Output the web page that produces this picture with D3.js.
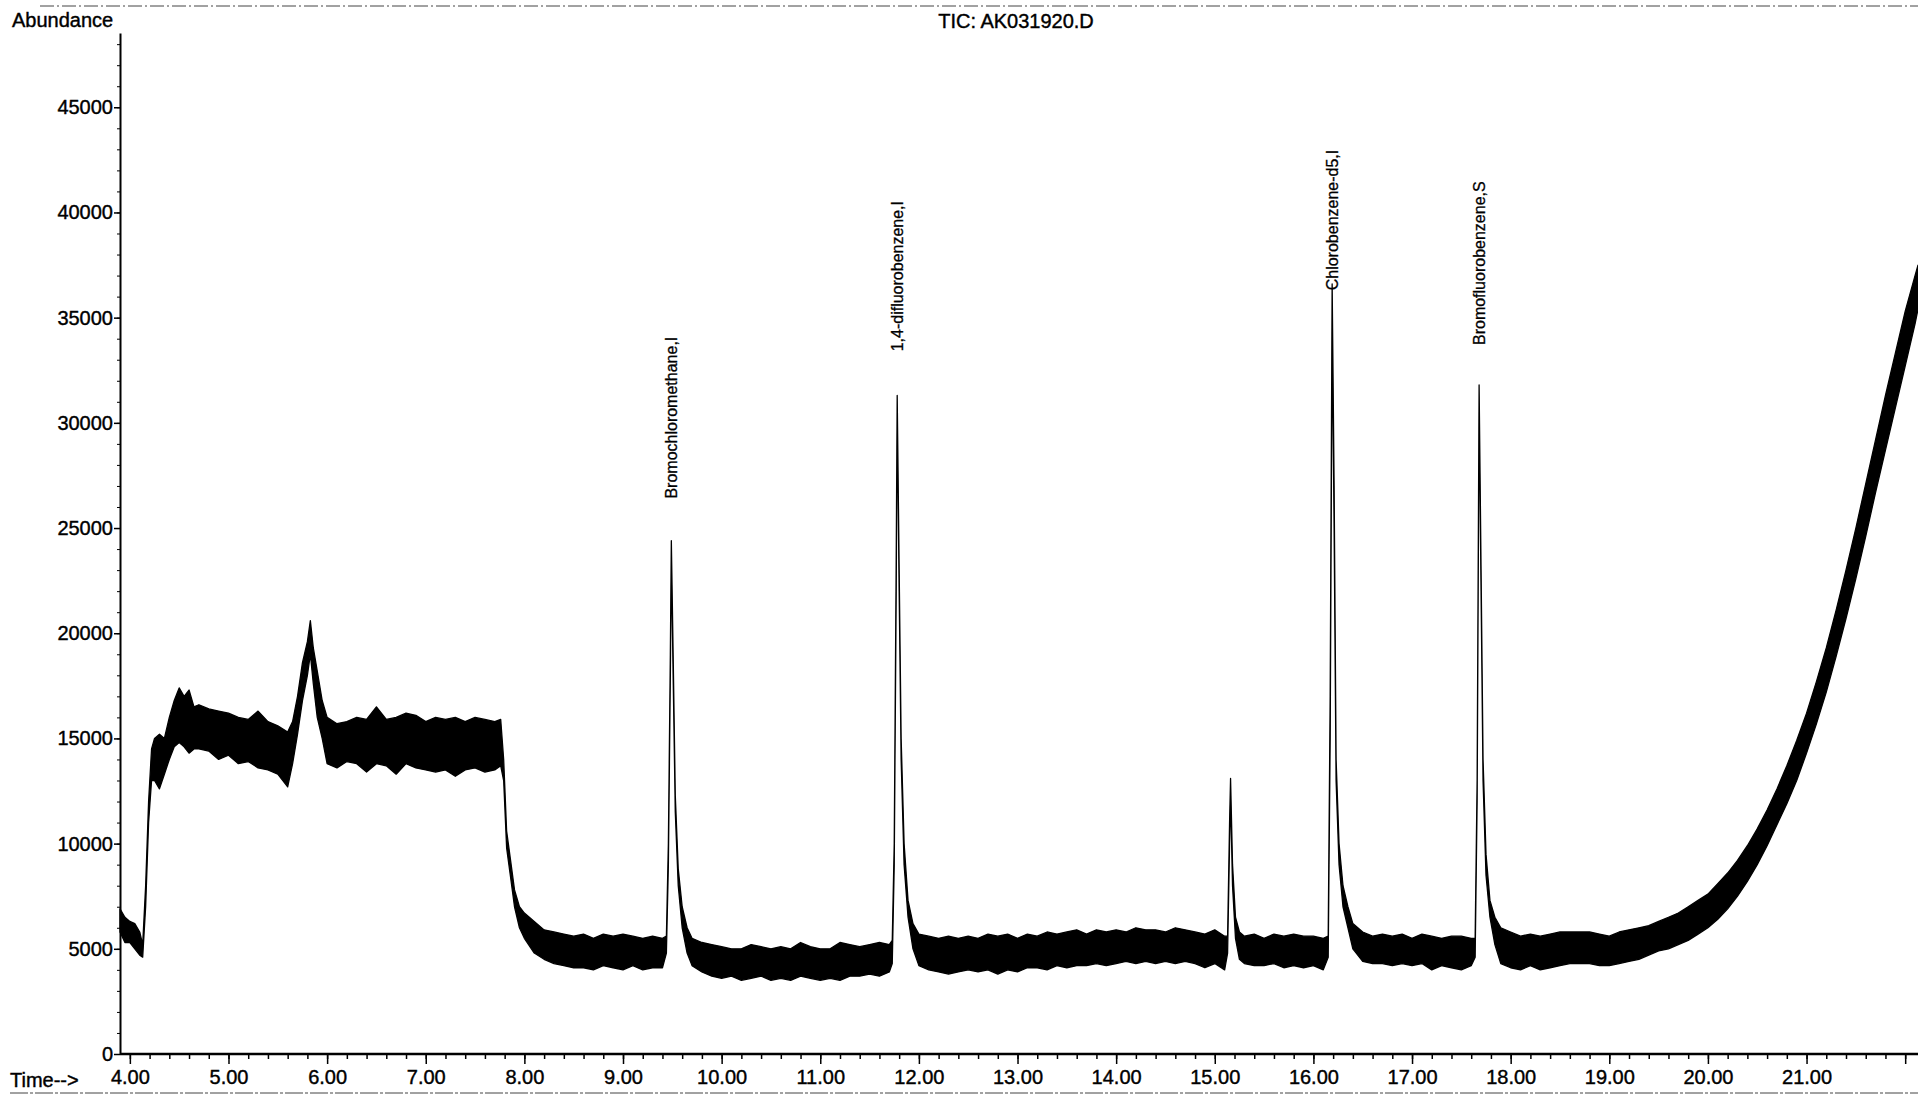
<!DOCTYPE html>
<html>
<head>
<meta charset="utf-8">
<script src="https://cdn.jsdelivr.net/npm/d3@7"></script>
<style>
  html, body { margin: 0; padding: 0; background: #fff; }
  #chart { width: 1918px; height: 1095px; }
</style>
</head>
<body>
<div id="chart"></div>
<script>
// retention time (min) of each trace sample
var timeMin = [
  3.90, 3.95, 4.00, 4.05, 4.10, 4.13, 4.16, 4.19, 4.22, 4.25, 4.30, 4.35, 4.40, 4.45, 4.50, 4.55, 4.60, 4.65, 4.70, 4.80,
  4.90, 5.00, 5.10, 5.20, 5.30, 5.40, 5.50, 5.60, 5.65, 5.70, 5.75, 5.80, 5.83, 5.86, 5.90, 5.95, 6.00, 6.10, 6.20, 6.30,
  6.40, 6.50, 6.60, 6.70, 6.80, 6.90, 7.00, 7.10, 7.20, 7.30, 7.40, 7.50, 7.60, 7.70, 7.76, 7.79, 7.82, 7.86, 7.90, 7.95,
  8.00, 8.10, 8.20, 8.30, 8.40, 8.50, 8.60, 8.70, 8.80, 8.90, 9.00, 9.10, 9.20, 9.30, 9.40, 9.44, 9.46, 9.48, 9.49, 9.51,
  9.53, 9.56, 9.60, 9.65, 9.70, 9.80, 9.90, 10.00, 10.10, 10.20, 10.30, 10.40, 10.50, 10.60, 10.70, 10.80, 10.90, 11.00, 11.10, 11.20,
  11.30, 11.40, 11.50, 11.60, 11.70, 11.73, 11.75, 11.77, 11.78, 11.80, 11.82, 11.85, 11.89, 11.94, 12.00, 12.10, 12.20, 12.30, 12.40, 12.50,
  12.60, 12.70, 12.80, 12.90, 13.00, 13.10, 13.20, 13.30, 13.40, 13.50, 13.60, 13.70, 13.80, 13.90, 14.00, 14.10, 14.20, 14.30, 14.40, 14.50,
  14.60, 14.70, 14.80, 14.90, 15.00, 15.10, 15.13, 15.15, 15.16, 15.18, 15.21, 15.25, 15.30, 15.40, 15.50, 15.60, 15.70, 15.80, 15.90, 16.00,
  16.10, 16.15, 16.17, 16.19, 16.21, 16.23, 16.26, 16.30, 16.35, 16.40, 16.50, 16.60, 16.70, 16.80, 16.90, 17.00, 17.10, 17.20, 17.30, 17.40,
  17.50, 17.60, 17.64, 17.66, 17.68, 17.70, 17.72, 17.75, 17.79, 17.84, 17.90, 18.00, 18.10, 18.20, 18.30, 18.40, 18.50, 18.60, 18.70, 18.80,
  18.90, 19.00, 19.10, 19.20, 19.30, 19.40, 19.50, 19.60, 19.70, 19.80, 19.90, 20.00, 20.10, 20.20, 20.30, 20.40, 20.50, 20.60, 20.70, 20.80,
  20.90, 21.00, 21.10, 21.20, 21.30, 21.40, 21.50, 21.60, 21.70, 21.80, 21.90, 22.00, 22.10, 22.13
];

// lower edge of the noisy TIC trace (abundance)
var lowAbund = [
  5800, 5300, 5300, 5000, 4700, 4600, 7000, 11000, 13000, 13000, 12600, 13300, 14000, 14600, 14800, 14600, 14300, 14500, 14500, 14400,
  14000, 14200, 13800, 13900, 13600, 13500, 13300, 12700, 13800, 15200, 16800, 18000, 19000, 17600, 16000, 15000, 13800, 13600, 13900, 13800,
  13400, 13800, 13700, 13300, 13800, 13600, 13500, 13400, 13500, 13200, 13500, 13600, 13400, 13500, 13700, 13000, 9800, 8400, 7000, 6000,
  5500, 4800, 4500, 4300, 4200, 4100, 4100, 4000, 4200, 4100, 4000, 4200, 4000, 4100, 4100, 4800, 9000, 18000, 23500, 17500,
  11500, 8000, 6000, 4800, 4200, 3900, 3700, 3600, 3700, 3500, 3600, 3700, 3500, 3600, 3500, 3700, 3600, 3500, 3600, 3500,
  3700, 3700, 3800, 3700, 3900, 4300, 9000, 22000, 30500, 22000, 14000, 9000, 6500, 5000, 4200, 4000, 3900, 3800, 3900, 4000,
  3900, 4000, 3800, 4000, 3900, 4100, 4100, 4000, 4200, 4100, 4200, 4200, 4300, 4200, 4300, 4400, 4300, 4400, 4300, 4400,
  4300, 4400, 4300, 4100, 4300, 4000, 4800, 10000, 12300, 8000, 5500, 4500, 4300, 4200, 4200, 4300, 4100, 4200, 4100, 4200,
  4000, 4600, 15000, 34500, 25000, 13000, 9000, 7000, 6000, 5000, 4400, 4300, 4300, 4200, 4300, 4200, 4300, 4000, 4200, 4100,
  4000, 4200, 4600, 12000, 30800, 22000, 13000, 8500, 6500, 5200, 4300, 4100, 4000, 4200, 4000, 4100, 4200, 4300, 4300, 4300,
  4200, 4200, 4300, 4400, 4500, 4700, 4900, 5000, 5200, 5400, 5700, 6000, 6400, 6900, 7500, 8200, 9000, 9900, 10900, 11900,
  13000, 14300, 15700, 17200, 18900, 20700, 22600, 24600, 26700, 28700, 30700, 32700, 34700, 35400
];

// upper edge of the noisy TIC trace (abundance)
var highAbund = [
  6900, 6500, 6300, 6200, 5800, 5200, 8000, 12000, 14500, 15000, 15200, 15000, 16000, 16800, 17400, 17000, 17300, 16500, 16600, 16400,
  16300, 16200, 16000, 15900, 16300, 15800, 15600, 15300, 15800, 17000, 18600, 19600, 20600, 19300, 18200, 16800, 16000, 15700, 15800, 16000,
  15900, 16500, 15900, 16000, 16200, 16100, 15800, 16000, 15900, 16000, 15800, 16000, 15900, 15800, 15900, 14000, 10600, 9200, 7800, 7000,
  6700, 6300, 5900, 5800, 5700, 5600, 5700, 5500, 5700, 5600, 5700, 5600, 5500, 5600, 5500, 5600, 10000, 19000, 24400, 18500,
  12300, 8800, 7000, 6000, 5500, 5300, 5200, 5100, 5000, 5000, 5200, 5100, 5000, 5100, 5000, 5300, 5100, 5000, 5000, 5300,
  5200, 5100, 5200, 5300, 5200, 5400, 10000, 23500, 31300, 23000, 15000, 10000, 7300, 6200, 5700, 5600, 5500, 5600, 5500, 5600,
  5500, 5700, 5600, 5700, 5500, 5700, 5600, 5800, 5700, 5800, 5900, 5700, 5900, 5800, 5900, 5800, 6000, 5900, 5900, 5800,
  6000, 5900, 5800, 5700, 5900, 5600, 5600, 11000, 13100, 9000, 6500, 5800, 5600, 5700, 5500, 5700, 5600, 5700, 5600, 5600,
  5500, 5600, 17000, 36600, 27000, 14000, 10000, 8000, 7000, 6200, 5800, 5600, 5700, 5600, 5700, 5500, 5700, 5600, 5500, 5600,
  5600, 5500, 5500, 13000, 31800, 23000, 14000, 9500, 7300, 6500, 6000, 5800, 5600, 5700, 5600, 5700, 5800, 5800, 5800, 5800,
  5700, 5600, 5800, 5900, 6000, 6100, 6300, 6500, 6700, 7000, 7300, 7600, 8100, 8600, 9200, 9900, 10700, 11600, 12600, 13700,
  14900, 16200, 17700, 19300, 21100, 23000, 25000, 27100, 29200, 31300, 33300, 35300, 37000, 37500
];

// compound labels printed above the peaks
var peakNames = ["Bromochloromethane,I", "1,4-difluorobenzene,I", "Chlorobenzene-d5,I", "Bromofluorobenzene,S"];
var peakTimes = [9.49, 11.78, 16.19, 17.68];
var labelBase = [26400, 33400, 36300, 33700];

// axis ticks
var yTickValues = [0, 5000, 10000, 15000, 20000, 25000, 30000, 35000, 40000, 45000];
var xTickLabels = ["4.00", "5.00", "6.00", "7.00", "8.00", "9.00", "10.00", "11.00", "12.00", "13.00",
  "14.00", "15.00", "16.00", "17.00", "18.00", "19.00", "20.00", "21.00"];

var fontFam = "'Liberation Sans', Arial, Helvetica, sans-serif";
var W = 1918, H = 1095;
var margin = { top: 33, left: 120, bottom: 1054, right: 1918 };

var svg = d3.select("#chart")
    .append("svg")
    .attr("width", W)
    .attr("height", H)
    .style("background", "#fff");

// scales
var x = d3.scaleLinear().domain([3.9, 22.13]).range([margin.left, margin.right]);
var y = d3.scaleLinear().domain([0, 48530]).range([margin.bottom, margin.top]);

var trace = timeMin.map(function (t, i) {
    return { t: t, lo: lowAbund[i], hi: highAbund[i] };
});

// the noise band of the chromatogram
var band = d3.area()
    .x(function (d) { return x(d.t); })
    .y0(function (d) { return y(d.lo); })
    .y1(function (d) { return y(d.hi); });

svg.append("path")
    .datum(trace)
    .attr("d", band)
    .style("fill", "#000")
    .style("stroke", "#000")
    .style("stroke-width", "1.3px")
    .style("stroke-linejoin", "round");

// scanned page edges
svg.append("line")
    .attr("x1", 40).attr("x2", W).attr("y1", 6).attr("y2", 6)
    .style("stroke", "#444").style("stroke-width", "1px").style("stroke-dasharray", "14,3,2,3");
svg.append("line")
    .attr("x1", 10).attr("x2", W).attr("y1", 1093).attr("y2", 1093)
    .style("stroke", "#444").style("stroke-width", "1px").style("stroke-dasharray", "18,2,3,2");

// Y axis with minor ticks
var yMinor = d3.range(0, 48001, 1000);
svg.append("g")
    .attr("transform", "translate(" + margin.left + ",0)")
    .call(d3.axisLeft(y).tickValues(yMinor).tickSize(3).tickFormat(""))
    .call(function (g) { g.select(".domain").remove(); })
    .selectAll("line").style("stroke", "#000");

svg.append("g")
    .attr("class", "y-axis")
    .attr("transform", "translate(" + margin.left + ",0)")
    .style("font-family", fontFam)
    .style("font-size", "20px")
    .call(d3.axisLeft(y)
        .tickValues(yTickValues)
        .tickSize(6)
        .tickSizeOuter(0)
        .tickPadding(1)
        .tickFormat(d3.format("d")))
    .call(function (g) {
        g.select(".domain").style("stroke", "#000").style("stroke-width", "2px");
        g.selectAll("line").style("stroke", "#000").style("stroke-width", "1.5px");
        g.selectAll("text").style("fill", "#000").style("stroke", "#000").style("stroke-width", "0.4px");
    });

// X axis: minor ticks every 0.2 min, labelled every minute
var xMinor = d3.range(20, 111).map(function (k) { return k / 5; });
svg.append("g")
    .attr("transform", "translate(0," + margin.bottom + ")")
    .call(d3.axisBottom(x).tickValues(xMinor).tickSize(5).tickFormat(""))
    .call(function (g) { g.select(".domain").remove(); })
    .selectAll("line").style("stroke", "#000").style("stroke-width", "1.5px");

var xMajor = d3.range(4, 23);
svg.append("g")
    .attr("class", "x-axis")
    .attr("transform", "translate(0," + margin.bottom + ")")
    .style("font-family", fontFam)
    .style("font-size", "20px")
    .call(d3.axisBottom(x)
        .tickValues(xMajor)
        .tickSize(10)
        .tickSizeOuter(0)
        .tickPadding(6)
        .tickFormat(function (d, i) { return xTickLabels[i] || ""; }))
    .call(function (g) {
        g.select(".domain").attr("d", "M" + margin.left + ",0H" + W).style("stroke", "#000").style("stroke-width", "2.5px");
        g.selectAll("line").style("stroke", "#000").style("stroke-width", "1.5px");
        g.selectAll("text").style("fill", "#000").style("stroke", "#000").style("stroke-width", "0.4px");
    });

// titles
function label(sel) {
    return sel.style("font-family", fontFam).style("font-size", "20px")
        .style("fill", "#000").style("stroke", "#000").style("stroke-width", "0.4px");
}

svg.append("text")
    .attr("x", 12).attr("y", 27)
    .call(label)
    .text("Abundance");

svg.append("text")
    .attr("x", 1016).attr("y", 28)
    .style("text-anchor", "middle")
    .call(label)
    .text("TIC: AK031920.D");

svg.append("text")
    .attr("x", 10).attr("y", 1087)
    .call(label)
    .text("Time-->");

// peak labels, rotated
peakNames.forEach(function (name, i) {
    var px = x(peakTimes[i]) + 6, py = y(labelBase[i]);
    svg.append("text")
        .attr("transform", "translate(" + px + "," + py + ") rotate(-90)")
        .style("font-family", fontFam)
        .style("font-size", "16px")
        .style("fill", "#000")
        .style("stroke", "#000")
        .style("stroke-width", "0.3px")
        .text(name);
});
</script>
</body>
</html>
